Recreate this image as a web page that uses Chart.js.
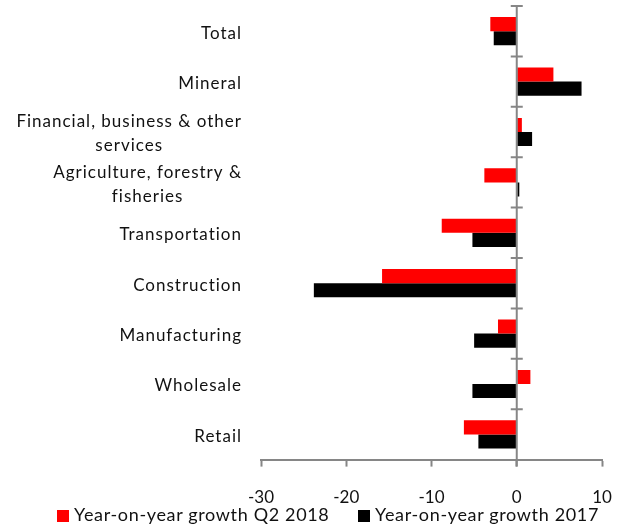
<!DOCTYPE html>
<html>
<head>
<meta charset="utf-8">
<script src="https://cdn.jsdelivr.net/npm/chart.js@4/dist/chart.umd.min.js"></script>
<style>
  body { margin: 0; background: #fff; }
  #wrap { position: relative; width: 624px; height: 529px; }
  #legend { position: absolute; left: 57px; top: 503px; font: 18px Lato, sans-serif; letter-spacing: 0.65px; color: #111; white-space: nowrap; }
  #legend .item { display: inline-block; }
  #legend .item:first-child { width: 301px; }
  #legend .box { display: inline-block; width: 12px; height: 12px; margin-right: 5px; vertical-align: -1px; }
</style>
</head>
<body>
<div id="wrap">
  <canvas id="chart" width="624" height="529"></canvas>
  <div id="legend"></div>
</div>
<script>
// Data
const categories = [
  ["Total"],
  ["Mineral"],
  ["Financial, business & other", "services"],
  ["Agriculture, forestry &", "fisheries"],
  ["Transportation"],
  ["Construction"],
  ["Manufacturing"],
  ["Wholesale"],
  ["Retail"],
]
const seriesNames = ["Year-on-year growth Q2 2018", "Year-on-year growth 2017"]
const growthQ2_2018 = [-3.1, 4.3, 0.6, -3.8, -8.8, -15.8, -2.2, 1.6, -6.2]
const growth2017 = [-2.7, 7.6, 1.8, 0.3, -5.2, -23.8, -5.0, -5.2, -4.5]
const xTicks = [-30, -20, -10, 0, 10]

const axisGrey = "#868686"
const labelFont = "17px Lato, sans-serif"

// Category labels: right block, lines centred inside it (Excel style)
const categoryLabels = {
  id: "categoryLabels",
  afterDraw(chart) {
    const { ctx, chartArea, scales } = chart
    const right = chartArea.left - 19
    ctx.save()
    ctx.font = labelFont
    ctx.letterSpacing = "1px"
    ctx.fillStyle = "#111"
    ctx.textAlign = "center"
    ctx.textBaseline = "middle"
    categories.forEach((lines, i) => {
      const yc = scales.y.getPixelForValue(i) + 2
      const w = Math.max(...lines.map((l) => ctx.measureText(l).width))
      const lineH = 24
      lines.forEach((l, j) => {
        ctx.fillText(l, right - w / 2, yc + (j - (lines.length - 1) / 2) * lineH)
      })
    })
    ctx.restore()
  },
}

// Zero line with cross tick marks between categories
const zeroTicks = {
  id: "zeroTicks",
  afterDatasetsDraw(chart) {
    const { ctx, scales } = chart
    const x0 = scales.x.getPixelForValue(0)
    ctx.save()
    ctx.strokeStyle = axisGrey
    ctx.lineWidth = 2
    ctx.beginPath()
    ctx.moveTo(x0, chart.chartArea.top)
    ctx.lineTo(x0, chart.chartArea.bottom + 7)
    for (let i = 0; i < categories.length; i++) {
      const y = scales.y.getPixelForValue(i - 0.5)
      ctx.moveTo(x0 - 6, y)
      ctx.lineTo(x0 + 6, y)
    }
    ctx.stroke()
    ctx.restore()
  },
}

const ctx = document.getElementById("chart").getContext("2d")
const chart = new Chart(ctx, {
  type: "bar",
  data: {
    labels: categories.map((c) => c.join(" ")),
    datasets: [
      {
        label: seriesNames[0],
        data: growthQ2_2018,
        backgroundColor: "#ff0000",
        categoryPercentage: 0.56,
        barPercentage: 1.0,
      },
      {
        label: seriesNames[1],
        data: growth2017,
        backgroundColor: "#000000",
        categoryPercentage: 0.56,
        barPercentage: 1.0,
      },
    ],
  },
  options: {
    indexAxis: "y",
    responsive: false,
    animation: false,
    layout: { padding: { top: 6, right: 22, left: 0, bottom: 0 } },
    scales: {
      x: {
        min: xTicks[0],
        max: xTicks[xTicks.length - 1],
        afterBuildTicks: (scale) => {
          scale.ticks = xTicks.map((v) => ({ value: v }))
        },
        afterFit: (scale) => {
          scale.paddingLeft = 0
          scale.paddingRight = 0
        },
        ticks: {
          font: { family: "Lato, sans-serif", size: 17 },
          color: "#111",
          padding: 21,
          maxRotation: 0,
        },
        grid: {
          drawOnChartArea: false,
          drawTicks: true,
          tickLength: 7,
          tickColor: axisGrey,
          tickWidth: 2,
        },
        border: { display: true, color: axisGrey, width: 2 },
      },
      y: {
        ticks: { display: false },
        grid: { display: false },
        border: { display: false },
        afterFit: (scale) => {
          scale.width = 261
        },
      },
    },
    plugins: {
      legend: { display: false },
      tooltip: { enabled: false },
    },
  },
  plugins: [categoryLabels, zeroTicks],
})

// HTML legend built from the datasets
document.getElementById("legend").innerHTML = chart.data.datasets
  .map((ds) => `<span class="item"><span class="box" style="background:${ds.backgroundColor}"></span>${ds.label}</span>`)
  .join("")
</script>
</body>
</html>
